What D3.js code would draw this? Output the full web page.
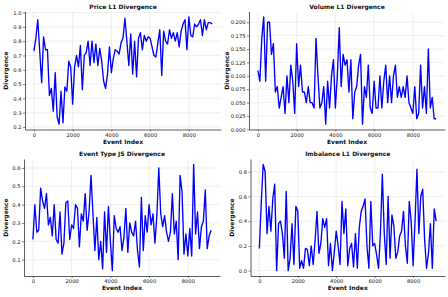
<!DOCTYPE html>
<html lang="en">
<head>
<meta charset="utf-8">
<script src="https://d3js.org/d3.v7.min.js"></script>
<style type="text/css">
body {
  margin: 0;
  padding: 0;
  background: white;
  font-family: "DejaVu Sans", sans-serif;
}
.tick text {
  font-size: 5.2px;
  fill: #111;
}
.title, .xlabel, .ylabel {
  font-size: 6px;
  font-weight: bold;
  fill: #111;
}
</style>
</head>
<body>
<div id="chart"></div>
<script type="text/javascript">

// event index, one sample every 100 events
var step = 100;

var priceL1 = [0.73,0.82,0.95,0.73,0.51,0.83,0.74,0.74,0.42,0.47,
  0.31,0.58,0.27,0.22,0.45,0.23,0.48,0.45,0.66,0.62,
  0.36,0.62,0.70,0.62,0.77,0.46,0.70,0.72,0.80,0.63,
  0.80,0.65,0.78,0.63,0.75,0.66,0.52,0.47,0.57,0.76,
  0.58,0.68,0.74,0.73,0.71,0.79,0.82,0.96,0.80,0.63,
  0.85,0.57,0.80,0.55,0.82,0.86,0.74,0.84,0.80,0.83,
  0.82,0.76,0.70,0.69,0.79,0.88,0.56,0.87,0.80,0.78,
  0.88,0.82,0.86,0.80,0.86,0.76,0.87,0.92,0.95,0.74,
  0.97,0.84,0.83,0.92,0.90,0.92,0.95,0.84,0.95,0.88,
  0.93,0.93,0.92];

var volumeL1 = [0.11,0.09,0.17,0.21,0.09,0.20,0.20,0.14,0.16,0.07,
  0.08,0.04,0.06,0.08,0.03,0.10,0.05,0.12,0.09,0.03,
  0.16,0.08,0.12,0.07,0.07,0.05,0.08,0.05,0.05,0.04,
  0.17,0.10,0.04,0.05,0.08,0.01,0.09,0.04,0.10,0.13,
  0.04,0.10,0.19,0.08,0.14,0.12,0.13,0.07,0.13,0.02,
  0.07,0.08,0.12,0.14,0.01,0.08,0.06,0.12,0.04,0.03,
  0.09,0.04,0.04,0.10,0.04,0.09,0.12,0.05,0.10,0.05,
  0.10,0.12,0.06,0.08,0.06,0.08,0.06,0.10,0.05,0.04,
  0.03,0.08,0.02,0.03,0.12,0.04,0.08,0.03,0.15,0.04,
  0.06,0.02,0.02];

var eventTypeJS = [0.21,0.40,0.25,0.26,0.49,0.42,0.38,0.46,0.29,0.33,
  0.23,0.40,0.21,0.19,0.36,0.13,0.19,0.41,0.42,0.21,
  0.29,0.27,0.40,0.38,0.17,0.35,0.31,0.46,0.26,0.36,
  0.56,0.35,0.15,0.33,0.10,0.20,0.05,0.36,0.14,0.39,
  0.20,0.04,0.34,0.27,0.25,0.28,0.15,0.22,0.38,0.14,
  0.30,0.25,0.23,0.31,0.15,0.06,0.44,0.15,0.34,0.25,
  0.40,0.29,0.35,0.19,0.34,0.60,0.35,0.28,0.34,0.25,
  0.20,0.25,0.46,0.24,0.31,0.10,0.56,0.47,0.13,0.24,
  0.12,0.27,0.12,0.62,0.24,0.36,0.16,0.28,0.31,0.48,
  0.16,0.23,0.26];

var imbalanceL1 = [0.18,0.55,0.86,0.80,0.30,0.52,0.32,0.58,0.70,0.00,
  0.38,0.40,0.30,0.10,0.64,0.00,0.10,0.38,0.05,0.52,
  0.48,0.02,0.08,0.02,0.18,0.17,0.04,0.20,0.05,0.24,
  0.48,0.14,0.22,0.42,0.35,0.42,0.04,0.22,0.00,0.15,
  0.32,0.20,0.05,0.56,0.30,0.50,0.04,0.18,0.22,0.03,
  0.30,0.02,0.35,0.48,0.52,0.58,0.20,0.02,0.56,0.20,
  0.22,0.13,0.02,0.30,0.78,0.30,0.05,0.60,0.10,0.45,
  0.36,0.10,0.15,0.28,0.32,0.48,0.20,0.06,0.56,0.40,
  0.04,0.40,0.82,0.30,0.60,0.66,0.25,0.02,0.14,0.38,
  0.02,0.50,0.40];

var titles = ["Price L1 Divergence", "Volume L1 Divergence",
              "Event Type JS Divergence", "Imbalance L1 Divergence"];
var xTicks = [0, 2000, 4000, 6000, 8000];
var yTicks = [
  [0.2, 0.3, 0.4, 0.5, 0.6, 0.7, 0.8, 0.9, 1.0],
  [0.000, 0.025, 0.050, 0.075, 0.100, 0.125, 0.150, 0.175, 0.200],
  [0.1, 0.2, 0.3, 0.4, 0.5, 0.6],
  [0.0, 0.2, 0.4, 0.6, 0.8]
];
var yFormats = [".1f", ".3f", ".1f", ".1f"];
var series = [priceL1, volumeL1, eventTypeJS, imbalanceL1];

// axes boxes in pixels (left, right, top, bottom) and y label position
var boxes = [
  {l: 25,  r: 221, t: 11.5, b: 129.5, yl: 5.7},
  {l: 249, r: 445, t: 11.5, b: 129.5, yl: 226.5},
  {l: 24,  r: 220, t: 159,  b: 276,   yl: 5.7},
  {l: 250.5, r: 445, t: 159, b: 276,  yl: 232}
];

var width = 448;
var height = 297;

var svg = d3.select("#chart")
  .append("svg")
  .attr("width", width)
  .attr("height", height);

series.forEach(function(values, k) {
  var box = boxes[k];
  var data = values.map(function(v, i) { return {x: i * step, y: v}; });

  // matplotlib style 5% margins
  var xMax = (values.length - 1) * step;
  var yExt = d3.extent(values);
  var yPad = (yExt[1] - yExt[0]) * 0.05;

  var x = d3.scaleLinear()
    .domain([-xMax * 0.05, xMax * 1.05])
    .range([box.l, box.r]);
  var y = d3.scaleLinear()
    .domain([yExt[0] - yPad, yExt[1] + yPad])
    .range([box.b, box.t]);

  var g = svg.append("g");

  // grid
  g.selectAll(".gx")
    .data(xTicks)
    .enter()
    .append("line")
    .attr("x1", function(d) { return x(d); })
    .attr("x2", function(d) { return x(d); })
    .attr("y1", box.t)
    .attr("y2", box.b)
    .style("stroke", "#e6e6e6")
    .style("stroke-width", 0.6);
  g.selectAll(".gy")
    .data(yTicks[k])
    .enter()
    .append("line")
    .attr("x1", box.l)
    .attr("x2", box.r)
    .attr("y1", function(d) { return y(d); })
    .attr("y2", function(d) { return y(d); })
    .style("stroke", "#e6e6e6")
    .style("stroke-width", 0.6);

  // the line
  var line = d3.line()
    .x(function(d) { return x(d.x); })
    .y(function(d) { return y(d.y); });

  g.append("path")
    .datum(data)
    .attr("d", line)
    .style("fill", "none")
    .style("stroke", "#0000ff")
    .style("stroke-width", 1.35)
    .style("stroke-linejoin", "round");

  // axes
  var xAxis = g.append("g")
    .attr("transform", "translate(0," + box.b + ")")
    .call(d3.axisBottom(x).tickValues(xTicks).tickFormat(d3.format("d"))
      .tickSize(2).tickPadding(1.5).tickSizeOuter(0));
  var yAxis = g.append("g")
    .attr("transform", "translate(" + box.l + ",0)")
    .call(d3.axisLeft(y).tickValues(yTicks[k]).tickFormat(d3.format(yFormats[k]))
      .tickSize(2).tickPadding(1.5).tickSizeOuter(0));

  [xAxis, yAxis].forEach(function(a) {
    a.select(".domain").style("stroke", "#333").style("stroke-width", 0.8);
    a.selectAll(".tick line").style("stroke", "#333").style("stroke-width", 0.6);
    a.attr("font-family", null).attr("font-size", null);
  });

  // labels
  g.append("text")
    .attr("class", "title")
    .attr("x", (box.l + box.r) / 2)
    .attr("y", box.t - 3)
    .attr("text-anchor", "middle")
    .text(titles[k]);

  g.append("text")
    .attr("class", "xlabel")
    .attr("x", (box.l + box.r) / 2)
    .attr("y", box.b + 14.3)
    .attr("text-anchor", "middle")
    .text("Event Index");

  g.append("text")
    .attr("class", "ylabel")
    .attr("transform", "translate(" + (box.yl + 2) + "," + ((box.t + box.b) / 2) + ") rotate(-90)")
    .attr("text-anchor", "middle")
    .text("Divergence");
});

</script>
</body>
</html>
